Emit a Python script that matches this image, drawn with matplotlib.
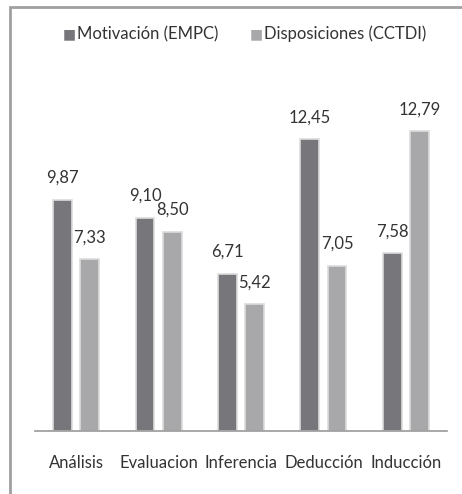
import numpy as np
import matplotlib.pyplot as plt
from matplotlib.patches import Rectangle

categorias = ["Análisis", "Evaluacion", "Inferencia", "Deducción", "Inducción"]
motivacion = [9.87, 9.10, 6.71, 12.45, 7.58]
disposiciones = [7.33, 8.50, 5.42, 7.05, 12.79]
series = ["Motivación (EMPC)", "Disposiciones (CCTDI)"]

plt.rcParams['font.family'] = ['Lato', 'DejaVu Sans']

fig = plt.figure(figsize=(4.62, 4.94), dpi=100)
ax = fig.add_axes([35/462, 63/494, 412/462, 328/494])

x = np.arange(len(categorias))
w = 0.23
off = 0.165
colores = ["#77777b", "#a8a8aa"]
for vals, dx, c in [(motivacion, -off, colores[0]), (disposiciones, off, colores[1])]:
    bars = ax.bar(x + dx, vals, w, color=c, edgecolor="#dcdcdc", linewidth=1.2, zorder=2)
    for b, v in zip(bars, vals):
        ax.annotate(("%.2f" % v).replace(".", ","),
                    (b.get_x() + b.get_width() / 2, v),
                    xytext=(0, 10), textcoords="offset points",
                    ha="center", va="bottom", fontsize=12, color="#333333")

ax.set_xlim(-0.5, 4.5)
ax.set_ylim(0, 14)
ax.set_yticks([])
ax.set_xticks(x)
ax.set_xticklabels(categorias, fontsize=12, color="#333333")
ax.tick_params(axis="x", length=0, pad=17)
for s in ["top", "right", "left"]:
    ax.spines[s].set_visible(False)
ax.spines["bottom"].set_color("#999999")
ax.spines["bottom"].set_linewidth(1.2)

# legend
fig.text(63/462, 1 - 34/494, "■", fontsize=10, color=colores[0], ha="left", va="center",
         family=['DejaVu Sans'])
fig.text(77/462, 1 - 34/494, series[0], fontsize=12, color="#333333", ha="left", va="center")
fig.text(250/462, 1 - 34/494, "■", fontsize=10, color=colores[1], ha="left", va="center",
         family=['DejaVu Sans'])
fig.text(264/462, 1 - 34/494, series[1], fontsize=12, color="#333333", ha="left", va="center")

# outer frame
fig.add_artist(Rectangle((10/462, -0.1), 1.2, 1 - 7/494 + 0.1, transform=fig.transFigure,
                         fill=False, edgecolor="#a0a0a0", linewidth=2))

fig.savefig("out.png", dpi=100)
